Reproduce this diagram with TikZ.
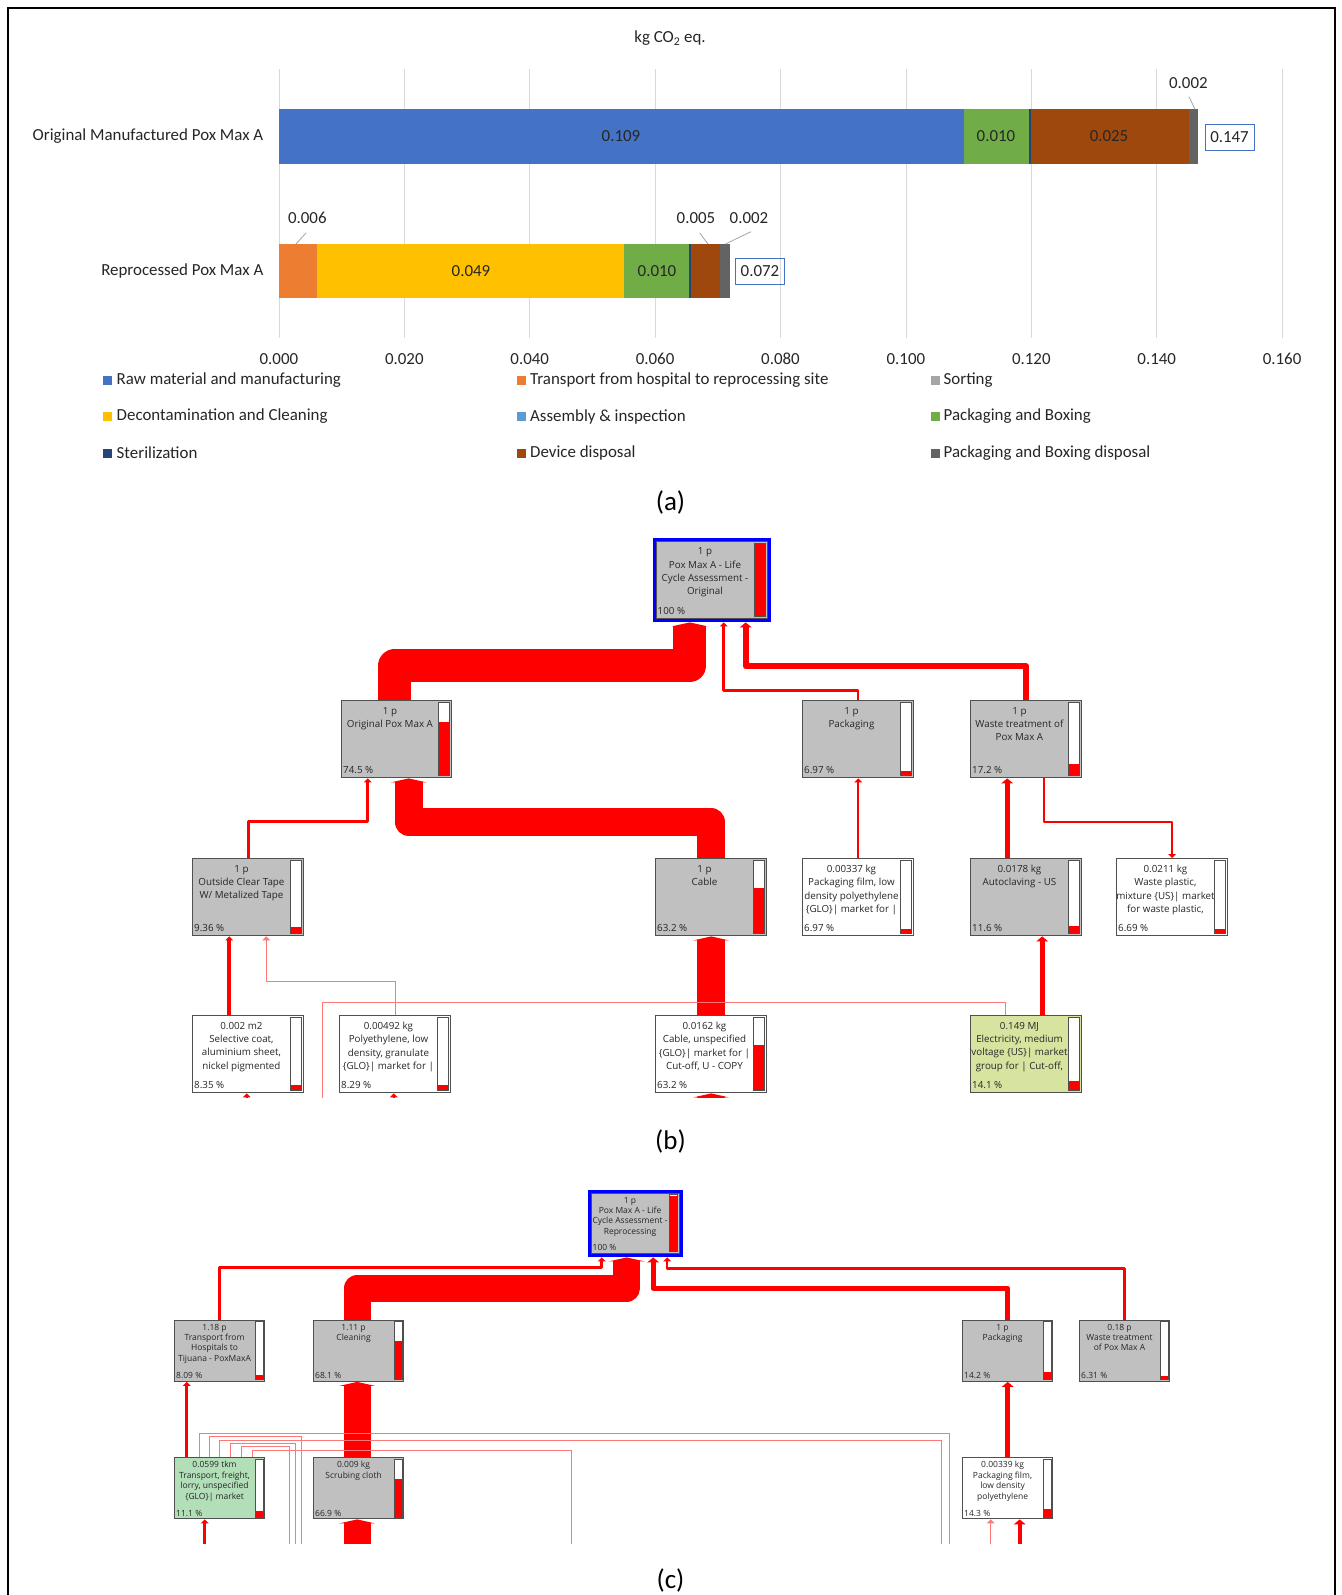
\documentclass[tikz,border=0pt]{standalone}
\usepackage{fontspec}
\setmainfont{Carlito}
\newfontfamily\opensans{Open Sans}
\usetikzlibrary{calc,arrows.meta}

\definecolor{xlblue}{HTML}{4472C4}
\definecolor{xlorange}{HTML}{ED7D31}
\definecolor{xlgray}{HTML}{A5A5A5}
\definecolor{xlgold}{HTML}{FFC000}
\definecolor{xlsky}{HTML}{5B9BD5}
\definecolor{xlgreen}{HTML}{70AD47}
\definecolor{xlnavy}{HTML}{264478}
\definecolor{xlbrown}{HTML}{9E480E}
\definecolor{xldark}{HTML}{636363}
\definecolor{gridgray}{HTML}{D9D9D9}
\definecolor{chartink}{HTML}{262626}
\definecolor{boxgray}{HTML}{C0C0C0}
\definecolor{boxline}{HTML}{505050}
\definecolor{elecgreen}{RGB}{214,228,160}
\definecolor{truckgreen}{RGB}{178,222,184}
\definecolor{linkpink}{RGB}{255,120,120}
\definecolor{rootblue}{HTML}{0000FF}

\tikzset{
  lcatip/.tip={Triangle[length=4pt,width=8pt,line width=0pt]},
  midtip/.tip={Triangle[length=5pt,width=12pt,line width=0pt]},
  bandtip/.tip={Triangle[length=4pt,width=36pt,line width=0pt]},
}

\newcommand{\lcafont}{\fontsize{9.8}{13.3}\selectfont\opensans}
\newcommand{\lcabarw}{11}
\newcommand{\lcabarin}{2.5}
\newcommand{\lcatop}{7}
\newcommand{\lcabase}{4.5}

% name, NW corner, width, height, fill, text, percentage, bar fraction
\newcommand{\lcanode}[8]{%
  \node[lcabox, fill=#5, minimum width=#3pt, minimum height=#4pt] (#1) at (#2) {};
  \node[lcatext] (#1-t) at ($(#1.north)+({-(\lcabarw+\lcabarin)/2},\lcatop)$) {#6};
  \node[lcapct] (#1-p) at ($(#1.south west)+(2,-\lcabase)$) {#7};
  \fill[white] ($(#1.north east)+(-\lcabarin,\lcabarin)$) rectangle ($(#1.south east)+({-\lcabarin-\lcabarw},-\lcabarin)$);
  \fill[red] ($(#1.south east)+(-\lcabarin,-\lcabarin)$) rectangle ++({-\lcabarw},{-#8*(#4-2*\lcabarin)});
  \draw[lcabar] ($(#1.north east)+(-\lcabarin,\lcabarin)$) rectangle ($(#1.south east)+({-\lcabarin-\lcabarw},-\lcabarin)$);
}

\begin{document}
\begin{tikzpicture}[x=1pt,y=-1pt,
  chart/.style={font=\fontsize{16.9}{19}\selectfont, text=chartink, inner sep=0pt},
  key/.style={chart, anchor=west},
  leader/.style={draw=xlgray, line width=0.8pt},
  total/.style={chart, draw=xlblue, line width=1pt, minimum width=49pt, minimum height=26pt},
  panel/.style={font=\fontsize{27}{30}\selectfont, inner sep=0pt},
  lcabox/.style={draw=boxline, line width=1.4pt, anchor=north west, inner sep=0pt},
  lcatext/.style={font=\lcafont, align=center, anchor=north, inner sep=0pt, text=black!85},
  lcapct/.style={font=\lcafont, anchor=base west, inner sep=0pt, text=black!85},
  lcabar/.style={draw=boxline, line width=0.9pt},
  rootframe/.style={preaction={draw=rootblue, line width=7pt}},
  flow/.style={draw=red, line join=round},
  thinflow/.style={draw=linkpink, line width=1pt},
]
\useasboundingbox (0,0) rectangle (1341,1595);
\fill[white] (0,0) rectangle (1341,1595);
\draw[line width=2pt] (7.5,1600) -- (7.5,8) -- (1335,8) -- (1335,1600);

% (a) stacked bars
\node[chart] (unit) at (670,38) {kg CO\textsubscript{2} eq.};
\foreach \i/\t in {0/0.000,1/0.020,2/0.040,3/0.060,4/0.080,5/0.100,6/0.120,7/0.140,8/0.160}{
  \draw[gridgray, line width=0.8pt] (278.9+125.4*\i,69) -- (278.9+125.4*\i,338);
  \node[chart] (tick\i) at (278.9+125.4*\i,359) {\t};
}
\foreach \a/\b/\c in {278.9/963.5/xlblue, 963.5/1028.5/xlgreen, 1028.5/1030.5/xlnavy,
    1030.5/1188.5/xlbrown, 1188.5/1198/xldark}
  \fill[\c] (\a,109) rectangle (\b,164);
\foreach \a/\b/\c in {278.9/316.9/xlorange, 316.9/624/xlgold, 624/689/xlgreen,
    689/691/xlnavy, 691/720.4/xlbrown, 720.4/729.6/xldark}
  \fill[\c] (\a,244) rectangle (\b,298);

\node[chart, anchor=east] (origlab) at (263.5,136.5) {Original Manufactured Pox Max A};
\node[chart, anchor=east] (replab) at (263.5,271) {Reprocessed Pox Max A};
\node[chart] (v109) at (621,136.5) {0.109};
\node[chart] (v010a) at (996,136.5) {0.010};
\node[chart] (v025) at (1109,136.5) {0.025};
\node[chart] (v049) at (471,271) {0.049};
\node[chart] (v010b) at (657,271) {0.010};
\node[total] (sum1) at (1229.5,137) {0.147};
\node[total] (sum2) at (760,271) {0.072};

\node[chart] (c002a) at (1188.4,83) {0.002};
\node[chart] (c006) at (307.3,217.7) {0.006};
\node[chart] (c005) at (696,217.7) {0.005};
\node[chart] (c002b) at (749,217.7) {0.002};
\draw[leader] (1189,96.7) -- (1195,109.3);
\draw[leader] (306,233) -- (296,244);
\draw[leader] (699.7,233) -- (708,244);
\draw[leader] (751,231.7) -- (725.4,244);

\foreach \y/\ca/\ta/\cb/\tb/\cc/\tc in {
    380/xlblue/Raw material and manufacturing/xlorange/Transport from hospital to reprocessing site/xlgray/Sorting,
    416.5/xlgold/Decontamination and Cleaning/xlsky/Assembly \& inspection/xlgreen/Packaging and Boxing,
    453/xlnavy/Sterilization/xlbrown/Device disposal/xldark/Packaging and Boxing disposal}{
  \fill[\ca] (103,\y-4.5) rectangle ++(9,9);
  \node[key] at (116.5,\y) {\ta};
  \fill[\cb] (516.5,\y-4.5) rectangle ++(9,9);
  \node[key] at (530,\y) {\tb};
  \fill[\cc] (930.5,\y-4.5) rectangle ++(9,9);
  \node[key] at (943.5,\y) {\tc};
}

\node[panel] (pa) at (670.5,502.6) {(a)};
\node[panel] (pb) at (670.5,1141.6) {(b)};
\node[panel] (pc) at (670.5,1580) {(c)};

% (b) original
\begin{scope}
\clip (0,520) rectangle (1341,1097);
\lcanode{root}{655.5,540.5}{111}{77}{boxgray, rootframe}{1 p\\Pox Max A - Life\\Cycle Assessment -\\Original}{100 \%}{1}
\lcanode{orig}{341,700}{110}{77}{boxgray}{1 p\\Original Pox Max A}{74.5 \%}{0.745}
\lcanode{pkg}{802,700}{111}{77}{boxgray}{1 p\\Packaging}{6.97 \%}{0.0697}
\lcanode{wst}{970,700}{111}{77}{boxgray}{1 p\\Waste treatment of\\Pox Max A}{17.2 \%}{0.172}
\lcanode{tape}{192,858}{111}{77}{boxgray}{1 p\\Outside Clear Tape\\W/ Metalized Tape}{9.36 \%}{0.0936}
\lcanode{cable}{655,858}{111}{77}{boxgray}{1 p\\Cable}{63.2 \%}{0.632}
\lcanode{film}{802,858}{111}{77}{white}{0.00337 kg\\Packaging film, low\\density polyethylene\\\{GLO\}| market for |}{6.97 \%}{0.0697}
\lcanode{autoc}{970,858}{111}{77}{boxgray}{0.0178 kg\\Autoclaving - US}{11.6 \%}{0.116}
\lcanode{wplas}{1116,858}{111}{77}{white}{0.0211 kg\\Waste plastic,\\mixture \{US\}| market\\for waste plastic,}{6.69 \%}{0.0669}
\lcanode{selc}{192,1015}{111}{77}{white}{0.002 m2\\Selective coat,\\aluminium sheet,\\nickel pigmented}{8.35 \%}{0.0835}
\lcanode{poly}{339,1015}{111}{77}{white}{0.00492 kg\\Polyethylene, low\\density, granulate\\\{GLO\}| market for |}{8.29 \%}{0.0829}
\lcanode{cabu}{655,1015}{111}{77}{white}{0.0162 kg\\Cable, unspecified\\\{GLO\}| market for |\\Cut-off, U - COPY}{63.2 \%}{0.632}
\lcanode{elec}{970,1015}{111}{77}{elecgreen}{0.149 MJ\\Electricity, medium\\voltage \{US\}| market\\group for | Cut-off,}{14.1 \%}{0.141}

\draw[flow, line width=33pt, bandtip-] ([xshift=-22pt,yshift=-3.5pt]root.south) -- ++(0,43.5) -| ([xshift=-2pt]orig.north);
\draw[flow, line width=2.5pt, lcatip-] ([xshift=12pt,yshift=-3.5pt]root.south) -- ++(0,68.3) -| (pkg.north);
\draw[flow, line width=6pt, midtip-] ([xshift=34pt,yshift=-3.5pt]root.south) -- ++(0,44) -| (wst.north);
\draw[flow, line width=3pt, lcatip-] ([xshift=-29pt]orig.south) -- ++(0,43) -| (tape.north);
\draw[flow, line width=28pt, bandtip-] ([xshift=12pt]orig.south) -- ++(0,43.7) -| (cable.north);
\draw[flow, line width=2.5pt, lcatip-] (pkg.south) -- (film.north);
\draw[flow, line width=5pt, midtip-] ([xshift=-19pt]wst.south) -- ([xshift=-19pt]autoc.north);
\draw[flow, line width=2pt, -lcatip] ([xshift=18pt]wst.south) -- ++(0,44) -| (wplas.north);
\draw[flow, line width=3.5pt, lcatip-] ([xshift=-19pt]tape.south) -- ([xshift=-19pt]selc.north);
\draw[thinflow, lcatip-] ([xshift=18pt]tape.south) -- ++(0,44.7) -| (poly.north);
\draw[flow, line width=28pt, bandtip-] (cable.south) -- (cabu.north);
\draw[flow, line width=5pt, midtip-] ([xshift=16pt]autoc.south) -- ([xshift=16pt]elec.north);
\coordinate (elecout) at (322,1100);
\draw[thinflow] ([xshift=-20.5pt]elec.north) -- ++(0,-12.3) -| (elecout);
\draw[flow, line width=2pt, lcatip-] ([xshift=-1.5pt]selc.south) -- ++(0,10);
\draw[flow, line width=2pt, lcatip-] ([xshift=-1.5pt]poly.south) -- ++(0,10);
\draw[flow, line width=28pt, bandtip-] (cabu.south) -- ++(0,10);
\end{scope}

% (c) reprocessing
\begin{scope}
\clip (0,1150) rectangle (1341,1543);
\renewcommand{\lcafont}{\fontsize{8.5}{10.4}\selectfont\opensans}
\renewcommand{\lcabarw}{8}
\renewcommand{\lcabarin}{2.3}
\renewcommand{\lcatop}{4.3}
\renewcommand{\lcabase}{3.3}
\lcanode{rroot}{590.5,1192.5}{88}{60}{boxgray, rootframe}{1 p\\Pox Max A - Life\\Cycle Assessment -\\Reprocessing}{100 \%}{1}
\lcanode{thosp}{174,1319.5}{90}{61}{boxgray}{1.18 p\\Transport from\\Hospitals to\\Tijuana - PoxMaxA}{8.09 \%}{0.0809}
\lcanode{clean}{313,1319.5}{90}{61}{boxgray}{1.11 p\\Cleaning}{68.1 \%}{0.681}
\lcanode{rpkg}{962,1319.5}{90}{61}{boxgray}{1 p\\Packaging}{14.2 \%}{0.142}
\lcanode{rwst}{1079,1319.5}{90}{61}{boxgray}{0.18 p\\Waste treatment\\of Pox Max A}{6.31 \%}{0.0631}
\lcanode{tfre}{174,1457}{90}{61}{truckgreen}{0.0599 tkm\\Transport, freight,\\lorry, unspecified\\\{GLO\}| market}{11.1 \%}{0.111}
\lcanode{scrub}{313,1457}{90}{61}{boxgray}{0.009 kg\\Scrubing cloth}{66.9 \%}{0.669}
\lcanode{rfilm}{962,1457}{90}{61}{white}{0.00339 kg\\Packaging film,\\low density\\polyethylene}{14.3 \%}{0.143}

\draw[flow, line width=3pt, lcatip-] ([xshift=-33.5pt,yshift=-3.5pt]rroot.south) -- ++(0,10) -| (thosp.north);
\draw[flow, line width=27pt, bandtip-] ([xshift=-8.5pt,yshift=-3.5pt]rroot.south) -- ++(0,30.7) -| ([xshift=-1.5pt]clean.north);
\draw[flow, line width=5pt, midtip-] ([xshift=18pt,yshift=-3.5pt]rroot.south) -- ++(0,30.7) -| (rpkg.north);
\draw[flow, line width=2.5pt, lcatip-] ([xshift=32pt,yshift=-3.5pt]rroot.south) -- ++(0,11.3) -| (rwst.north);
\draw[flow, line width=3pt, lcatip-] ([xshift=-33pt]thosp.south) -- ([xshift=-33pt]tfre.north);
\draw[flow, line width=27pt, bandtip-] ([xshift=-1.5pt]clean.south) -- ([xshift=-1.5pt]scrub.north);
\draw[flow, line width=5pt, midtip-] (rpkg.south) -- (rfilm.north);
\foreach \dx/\dy/\ox [count=\i] in {-20.7/23.7/949, -10/20.3/301.7, 0/17/941,
    11/13.7/295.3, 22/10.3/289.3, 32.7/6.3/571.7}{
  \coordinate (tfout\i) at (\ox,1550);
  \draw[thinflow] ([xshift=\dx pt]tfre.north) -- ++(0,-\dy) -| (tfout\i);
}
\draw[flow, line width=3pt, lcatip-] ([xshift=-15pt]tfre.south) -- ++(0,30);
\draw[flow, line width=27pt, bandtip-] ([xshift=-1.5pt]scrub.south) -- ++(0,30);
\draw[thinflow, lcatip-] ([xshift=-17pt]rfilm.south) -- ++(0,30);
\draw[flow, line width=4pt, midtip-] ([xshift=12pt]rfilm.south) -- ++(0,30);
\end{scope}
\end{tikzpicture}
\end{document}
